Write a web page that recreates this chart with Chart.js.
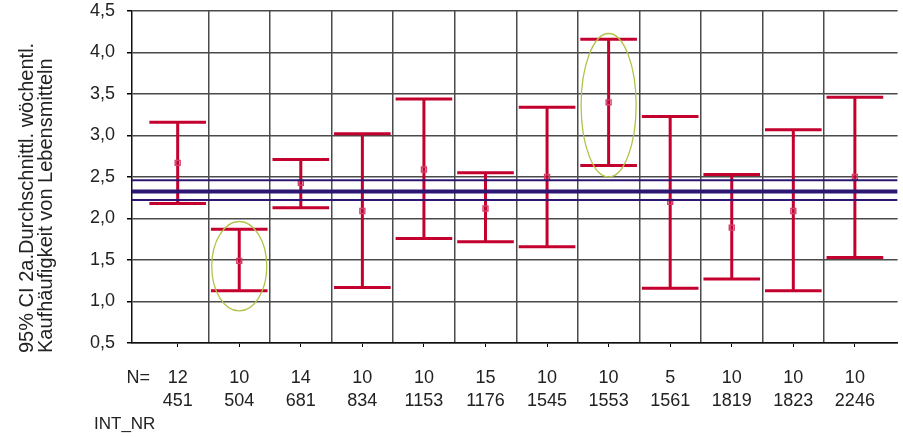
<!DOCTYPE html>
<html lang="de">
<head>
    <meta charset="UTF-8">
    <title>95% CI Kaufhäufigkeit</title>
    <script src="https://cdn.jsdelivr.net/npm/chart.js"></script>
    <style>
        body { margin: 0; background: #fff; }
        #wrap { width: 903px; height: 437px; }
    </style>
</head>
<body>
    <div id="wrap"><canvas id="ciChart" width="903" height="437"></canvas></div>

    <script>
        // data
        const intNr   = ['451', '504', '681', '834', '1153', '1176', '1545', '1553', '1561', '1819', '1823', '2246'];
        const nCounts = [12, 10, 14, 10, 10, 15, 10, 10, 5, 10, 10, 10];
        const means   = [2.67, 1.49, 2.43, 2.09, 2.59, 2.12, 2.50, 3.40, 2.20, 1.89, 2.09, 2.50];
        const lower   = [2.18, 1.13, 2.13, 1.17, 1.76, 1.72, 1.66, 2.64, 1.16, 1.27, 1.13, 1.53];
        const upper   = [3.16, 1.87, 2.71, 3.02, 3.44, 2.55, 3.34, 4.16, 3.23, 2.53, 3.07, 3.46];

        // overall mean and its CI (blue lines)
        const totalMean = 2.325;
        const totalLow = 2.224;
        const totalHigh = 2.461;

        // circled groups: category index, value range
        const highlightCat = [1, 7];
        const highlightLow = [0.886, 2.501];
        const highlightHigh = [1.964, 4.229];

        const yTicks = [0.5, 1.0, 1.5, 2.0, 2.5, 3.0, 3.5, 4.0, 4.5];
        const yTitle = ['95% CI 2a.Durchschnittl. wöchentl.', 'Kaufhäufigkeit von Lebensmitteln'];

        const FONT = "'Liberation Sans', Arial, sans-serif";
        const X_MIN = -0.742, X_MAX = 11.694;
        const CAP = 0.46;

        // error bars as one broken line
        const barPts = [];
        means.forEach((m, i) => {
            barPts.push({ x: i, y: lower[i] }, { x: i, y: upper[i] }, { x: i, y: null });
            barPts.push({ x: i - CAP, y: upper[i] }, { x: i + CAP, y: upper[i] }, { x: i, y: null });
            barPts.push({ x: i - CAP, y: lower[i] }, { x: i + CAP, y: lower[i] }, { x: i, y: null });
        });

        const hline = v => [{ x: X_MIN, y: v }, { x: X_MAX, y: v }];

        // y title, N= and INT_NR captions, ellipses
        const extras = {
            id: 'extras',
            afterDatasetsDraw(chart) {
                const { ctx, scales } = chart;
                ctx.save();
                ctx.strokeStyle = '#b5c24a';
                ctx.lineWidth = 1.3;
                highlightCat.forEach((c, k) => {
                    const cx = scales.x.getPixelForValue(c);
                    const rx = scales.x.getPixelForValue(c + 0.447) - cx;
                    const yTop = scales.y.getPixelForValue(highlightHigh[k]);
                    const yBot = scales.y.getPixelForValue(highlightLow[k]);
                    ctx.beginPath();
                    ctx.ellipse(cx, (yTop + yBot) / 2, rx, (yBot - yTop) / 2, 0, 0, Math.PI * 2);
                    ctx.stroke();
                });
                ctx.restore();
            },
            afterDraw(chart) {
                const ctx = chart.ctx;
                ctx.save();
                ctx.fillStyle = '#222';
                ctx.textBaseline = 'middle';
                ctx.font = '18px ' + FONT;
                ctx.textAlign = 'right';
                ctx.fillText('N=', 150, 378);
                ctx.textAlign = 'left';
                ctx.font = '17px ' + FONT;
                ctx.fillText('INT_NR', 94, 424);
                ctx.font = '20px ' + FONT;
                ctx.translate(27, 353);
                ctx.rotate(-Math.PI / 2);
                ctx.fillText(yTitle[0], 0, 0);
                ctx.fillText(yTitle[1], 0, 19);
                ctx.restore();
            }
        };

        const noSidePad = s => { s.paddingLeft = 0; s.paddingRight = 0; };

        const ctx = document.getElementById('ciChart').getContext('2d');
        new Chart(ctx, {
            type: 'line',
            data: {
                datasets: [
                    { data: hline(totalMean), borderColor: '#2e1675', borderWidth: 4, pointRadius: 0, order: 0 },
                    { data: hline(totalLow), borderColor: '#2e1675', borderWidth: 2, pointRadius: 0, order: 0 },
                    { data: hline(totalHigh), borderColor: '#2e1675', borderWidth: 2, pointRadius: 0, order: 0 },
                    {
                        data: means.map((m, i) => ({ x: i, y: m })),
                        showLine: false,
                        pointStyle: 'rect',
                        pointRadius: 3.5,
                        borderWidth: 1.4,
                        pointBorderColor: '#d2406c',
                        pointBackgroundColor: 'rgba(255,255,255,0)',
                        order: 1
                    },
                    { data: barPts, borderColor: '#c4002f', borderWidth: 3, pointRadius: 0, spanGaps: false, order: 2 }
                ]
            },
            options: {
                responsive: false,
                animation: false,
                layout: { padding: { top: 0, right: 0, bottom: 0, left: 0 } },
                plugins: { legend: { display: false }, tooltip: { enabled: false } },
                scales: {
                    x: {
                        type: 'linear',
                        min: X_MIN,
                        max: X_MAX,
                        afterBuildTicks: s => { s.ticks = means.map((m, i) => ({ value: i })); },
                        afterFit: s => { s.height = 94; noSidePad(s); },
                        ticks: {
                            autoSkip: false,
                            maxRotation: 0,
                            padding: 20,
                            color: '#222',
                            font: { family: FONT, size: 18, lineHeight: 1.25 },
                            callback: v => [String(nCounts[v]), intNr[v]]
                        },
                        grid: { drawOnChartArea: false, tickLength: 4, color: '#000' },
                        border: { color: '#111', width: 1.5 }
                    },
                    xg: {
                        type: 'linear',
                        position: 'bottom',
                        min: X_MIN,
                        max: X_MAX,
                        afterBuildTicks: s => { s.ticks = means.slice(1).map((m, i) => ({ value: i + 0.5 })); },
                        afterFit: s => { s.height = 0; noSidePad(s); },
                        ticks: { display: false },
                        grid: { drawTicks: false, color: '#4a4a4a', lineWidth: 1.5 },
                        border: { display: false }
                    },
                    y: {
                        min: 0.5,
                        max: 4.5,
                        afterBuildTicks: s => { s.ticks = yTicks.map(v => ({ value: v })); },
                        afterFit: s => { s.width = 132; s.paddingTop = 11; s.paddingBottom = 0; },
                        ticks: {
                            padding: 12,
                            color: '#222',
                            font: { family: FONT, size: 18 },
                            callback: v => v.toFixed(1).replace('.', ',')
                        },
                        grid: { color: '#4a4a4a', lineWidth: 1.5, tickLength: 5, tickColor: '#000' },
                        border: { color: '#111', width: 1.5 }
                    }
                }
            },
            plugins: [extras]
        });
    </script>
</body>
</html>
